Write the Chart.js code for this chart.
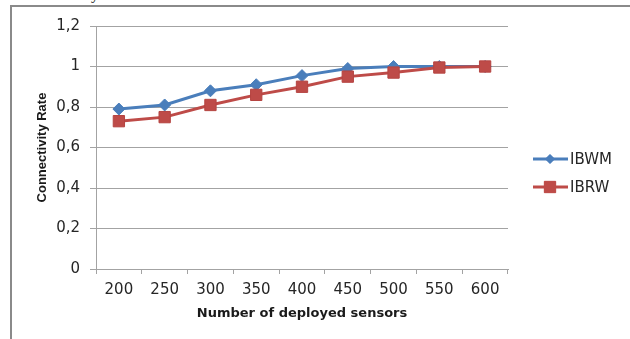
<!DOCTYPE html>
<html>
<head>
<meta charset="utf-8">
<script src="https://cdn.jsdelivr.net/npm/chart.js@4/dist/chart.umd.min.js"></script>
<style>
  html, body { margin: 0; padding: 0; background: #fff; overflow: hidden; }
  body { width: 630px; height: 339px; position: relative; }
  #caption { position: absolute; left: 20px; top: -14px; font: 16px "Liberation Serif", serif; color: #222; line-height: 16px; white-space: nowrap; }
  #frame { position: absolute; left: 10px; top: 5px; width: 640px; height: 360px; border-left: 2px solid #8a8a8a; border-top: 2px solid #8a8a8a; background: #fff; }
  #wrap { position: absolute; left: 12px; top: 7px; width: 618px; height: 332px; }
</style>
</head>
<body>
<div id="caption">connectivity rate.</div>
<div id="frame"></div>
<div id="wrap"><canvas id="c" width="618" height="332"></canvas></div>
<script>
// Number of deployed sensors on the x axis
const sensors = ['200', '250', '300', '350', '400', '450', '500', '550', '600'];
// Connectivity rate per scheme
const ibwm = [0.79, 0.81, 0.88, 0.91, 0.955, 0.99, 1.0, 1.0, 1.0];
const ibrw = [0.73, 0.75, 0.81, 0.86, 0.90, 0.95, 0.97, 0.995, 1.0];
// Y tick labels (comma decimal separator)
const yTickLabels = ['0', '0,2', '0,4', '0,6', '0,8', '1', '1,2'];

const BLUE = '#4a7ebb';
const RED = '#be4b48';
const AXIS = '#a3a3a3';

// Legend with a line segment and marker per series, drawn to the right of the plot
const sideLegend = {
  id: 'sideLegend',
  afterDraw(chart) {
    const ctx = chart.ctx;
    const entries = [
      { label: 'IBWM', color: BLUE, style: 'rectRot', r: 4.5, y: 152 },
      { label: 'IBRW', color: RED, style: 'rect', r: 8, y: 180 }
    ];
    ctx.save();
    entries.forEach(e => {
      ctx.strokeStyle = e.color;
      ctx.lineWidth = 3;
      ctx.beginPath();
      ctx.moveTo(521, e.y);
      ctx.lineTo(556, e.y);
      ctx.stroke();
      ctx.fillStyle = e.color;
      ctx.strokeStyle = e.color;
      ctx.lineWidth = 1;
      Chart.helpers.drawPoint(ctx, { pointStyle: e.style, radius: e.r, borderWidth: 1 }, 538, e.y);
      ctx.fill();
      ctx.fillStyle = '#262626';
      ctx.font = '15px "DejaVu Sans"';
      ctx.textBaseline = 'middle';
      ctx.textAlign = 'left';
      ctx.fillText(e.label, 558, e.y + 1);
    });
    ctx.restore();
  }
};

new Chart(document.getElementById('c'), {
  type: 'line',
  data: {
    labels: sensors,
    datasets: [
      {
        label: 'IBWM', data: ibwm, order: 1,
        borderColor: BLUE, backgroundColor: BLUE, borderWidth: 3,
        pointStyle: 'rectRot', pointRadius: 6, pointBorderWidth: 1,
        pointBackgroundColor: BLUE, pointBorderColor: BLUE, tension: 0
      },
      {
        label: 'IBRW', data: ibrw, order: 0,
        borderColor: RED, backgroundColor: RED, borderWidth: 3,
        pointStyle: 'rect', pointRadius: 8, pointBorderWidth: 1,
        pointBackgroundColor: RED, pointBorderColor: '#b54441', tension: 0
      }
    ]
  },
  options: {
    responsive: false,
    animation: false,
    events: [],
    layout: { padding: { left: 0, right: 122, top: 16, bottom: 0 } },
    plugins: { legend: { display: false }, tooltip: { enabled: false } },
    scales: {
      x: {
        offset: true,
        afterFit(s) { s.height = 70; },
        grid: { display: true, drawOnChartArea: false, drawTicks: true, tickLength: 5, offset: true, color: AXIS },
        border: { display: true, color: AXIS, width: 1 },
        ticks: { color: '#262626', font: { family: '"DejaVu Sans"', size: 15 }, padding: 7, maxRotation: 0 },
        title: {
          display: true, text: 'Number of deployed sensors', color: '#1a1a1a',
          font: { family: '"DejaVu Sans"', size: 13, weight: 'bold' },
          padding: { top: 0, bottom: 18 }
        }
      },
      y: {
        min: 0, max: 1.2,
        afterFit(s) { s.width = 84; },
        grid: { color: AXIS, tickLength: 6, drawTicks: true },
        border: { display: true, color: AXIS, width: 1 },
        ticks: {
          stepSize: 0.2, color: '#262626', padding: 10,
          font: { family: '"DejaVu Sans"', size: 15 },
          callback: (v, i) => yTickLabels[i]
        },
        title: {
          display: true, text: 'Connectivity Rate', color: '#1a1a1a',
          font: { family: '"Liberation Sans"', size: 13, weight: 'bold' },
          padding: { top: 23, bottom: 0 }
        }
      }
    }
  },
  plugins: [sideLegend]
});
</script>
</body>
</html>
